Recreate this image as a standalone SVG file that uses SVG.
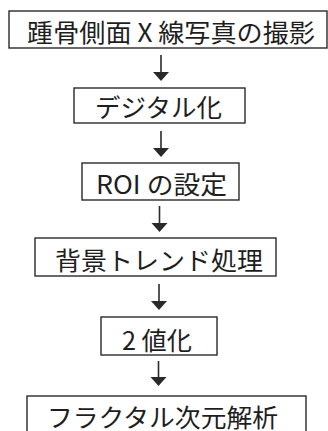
<svg xmlns="http://www.w3.org/2000/svg" width="328" height="431" viewBox="0 0 328 431">
<defs>
<style>
.box{fill:#fff;stroke:#2a2a2a;stroke-width:1.4}
.t{font-family:"Noto Sans CJK JP","Noto Sans",sans-serif;font-size:25px;fill:#1e1e1e;text-anchor:middle;dominant-baseline:central}
.c{stroke:#2a2a2a;stroke-width:1.6;fill:none}
.h{fill:#2a2a2a}
</style>
</defs>
<rect width="328" height="431" fill="#fff"/>
<g id="connectors">
<path class="c" d="M161,55 V74"/><polygon class="h" points="153,72 169,72 161,81"/>
<path class="c" d="M161,131 V150"/><polygon class="h" points="153,148 169,148 161,157"/>
<path class="c" d="M159.5,206 V225"/><polygon class="h" points="151.5,223 167.5,223 159.5,232"/>
<path class="c" d="M159,284 V303"/><polygon class="h" points="151,301 167,301 159,310"/>
<path class="c" d="M158.5,361 V379"/><polygon class="h" points="150.5,377 166.5,377 158.5,386"/>
</g>
<g id="n1"><rect class="box" x="9" y="11" width="318" height="37"/><text class="t" x="171" y="31" textLength="288" lengthAdjust="spacingAndGlyphs">踵骨側面 X 線写真の撮影</text></g>
<g id="n2"><rect class="box" x="74" y="88" width="171" height="35"/><text class="t" x="158.5" y="106" textLength="127" lengthAdjust="spacingAndGlyphs">デジタル化</text></g>
<g id="n3"><rect class="box" x="82" y="163" width="157" height="37"/><text class="t" x="161.5" y="182.5" textLength="131" lengthAdjust="spacingAndGlyphs">ROI の設定</text></g>
<g id="n4"><rect class="box" x="35" y="238" width="241" height="38"/><text class="t" x="159" y="258.5" textLength="208" lengthAdjust="spacingAndGlyphs">背景トレンド処理</text></g>
<g id="n5"><rect class="box" x="101" y="317" width="116" height="38"/><text class="t" x="157" y="339" textLength="70" lengthAdjust="spacingAndGlyphs">2 値化</text></g>
<g id="n6"><rect class="box" x="27" y="396" width="279" height="45"/><text class="t" x="162.5" y="415.5" textLength="231" lengthAdjust="spacingAndGlyphs">フラクタル次元解析</text></g>
</svg>
